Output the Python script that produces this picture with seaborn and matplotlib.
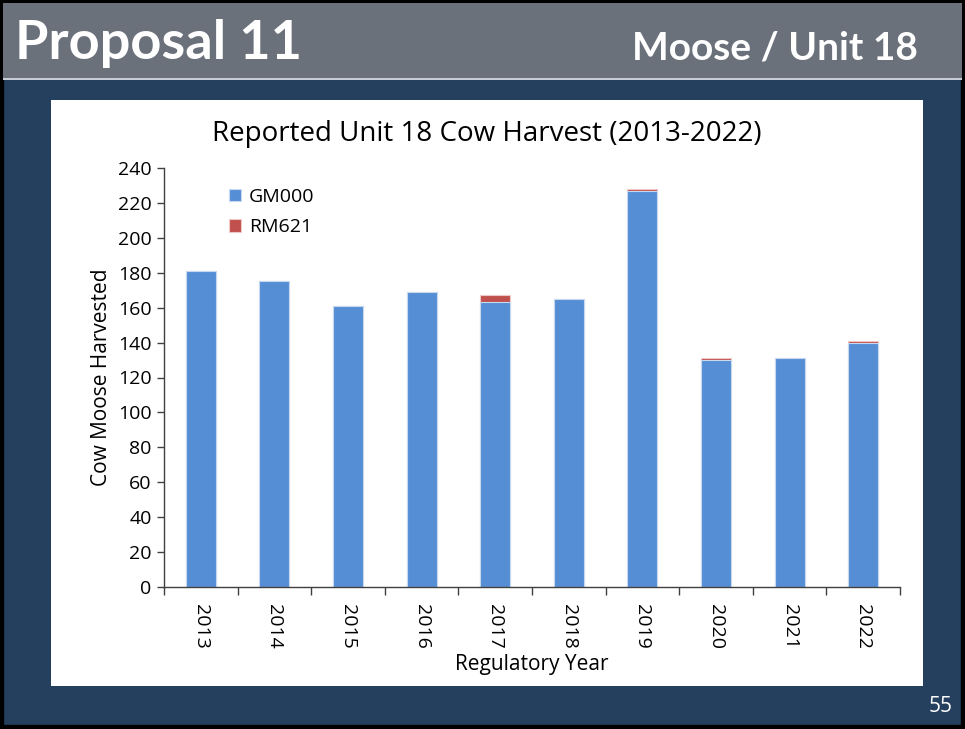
import numpy as np
import pandas as pd
import seaborn as sns
import matplotlib.pyplot as plt
from matplotlib.patches import Rectangle

years = ['2013', '2014', '2015', '2016', '2017', '2018', '2019', '2020', '2021', '2022']
gm000 = [181, 175, 161, 169, 163, 165, 227, 130, 131, 140]
rm621 = [0, 0, 0, 0, 4, 0, 1, 1, 0, 1]

df = pd.DataFrame({'year': years, 'GM000': gm000, 'RM621': rm621})
df['total'] = df['GM000'] + df['RM621']

blue = '#558ed5'
red = '#c0504d'
navy = '#253f5f'
gray = '#6b717b'

sns.set_theme(style='white')
plt.rcParams['font.family'] = ['Open Sans', 'DejaVu Sans']
plt.rcParams['text.color'] = 'black'
plt.rcParams['axes.labelcolor'] = 'black'
plt.rcParams['xtick.color'] = 'black'
plt.rcParams['ytick.color'] = 'black'

fig = plt.figure(figsize=(9.65, 7.29), dpi=100)
fig.patch.set_facecolor(navy)

W, H = 965, 729

def box(x0, y0, x1, y1, **kw):
    # pixel coords, y from top; kept behind the axes
    fig.patches.append(Rectangle((x0 / W, 1 - y1 / H), (x1 - x0) / W, (y1 - y0) / H,
                                 transform=fig.transFigure, zorder=-5, **kw))

box(0, 0, 965, 729, facecolor='none', edgecolor='black', linewidth=6)
box(3, 3, 962, 78, facecolor=gray, edgecolor='none')
box(3, 78, 962, 80, facecolor='#c8ccd4', edgecolor='none')
box(51, 100, 923, 686, facecolor='white', edgecolor='none')

fig.text(15 / W, 1 - 44 / H, 'Proposal 11', color='white', fontsize=39,
         fontweight='bold', va='center', ha='left', family=['Lato', 'DejaVu Sans'])
fig.text(918 / W, 1 - 48 / H, 'Moose / Unit 18', color='white', fontsize=28,
         fontweight='bold', va='center', ha='right', family=['Lato', 'DejaVu Sans'])
fig.text(953 / W, 1 - 706 / H, '55', color='white', fontsize=15, va='center', ha='right')

fig.text(487 / W, 1 - 134 / H, 'Reported Unit 18 Cow Harvest (2013-2022)',
         fontsize=20, ha='center', va='center', color='black')

ax = fig.add_axes([164 / W, 1 - 587 / H, (900 - 164) / W, (587 - 168) / H])
ax.set_facecolor('none')

sns.barplot(data=df, x='year', y='total', color=red, width=0.41, saturation=1,
            edgecolor='#f0c8c8', linewidth=0.8, ax=ax, label='RM621')
sns.barplot(data=df, x='year', y='GM000', color=blue, width=0.41, saturation=1,
            edgecolor='#c6d9f1', linewidth=0.8, ax=ax, label='GM000')

ax.set_ylim(0, 240)
ax.set_xlim(-0.5, 9.5)
ax.set_yticks(np.arange(0, 241, 20))
ax.tick_params(axis='y', labelsize=14, length=5, width=1, color='#404040', left=True, pad=4)
ax.tick_params(axis='x', which='major', length=0, labelsize=14, rotation=-90, pad=12)
ax.set_xticks(np.arange(-0.5, 10, 1), minor=True)
ax.tick_params(axis='x', which='minor', length=6, width=1, color='#404040', bottom=True)
for s in ['top', 'right']:
    ax.spines[s].set_visible(False)
for s in ['left', 'bottom']:
    ax.spines[s].set_color('#404040')
    ax.spines[s].set_linewidth(1)

ax.set_xlabel('Regulatory Year', fontsize=15, labelpad=4)
ax.set_ylabel('Cow Moose Harvested', fontsize=15, labelpad=4)

handles, labels = ax.get_legend_handles_labels()
order = [labels.index('GM000'), labels.index('RM621')]
ax.legend([handles[i] for i in order], [labels[i] for i in order],
          loc='upper left', bbox_to_anchor=(0.065, 0.995), frameon=False,
          fontsize=14, handlelength=0.6, handleheight=0.6, labelspacing=0.65,
          handletextpad=0.4)

fig.savefig('out.png', dpi=100, facecolor=fig.get_facecolor())
